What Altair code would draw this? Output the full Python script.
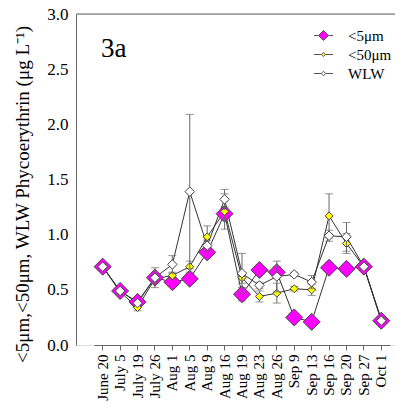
import altair as alt
import pandas as pd

dates = ["June 20", "July 5", "July 19", "July 26", "Aug 1", "Aug 5", "Aug 9",
         "Aug 16", "Aug 19", "Aug 23", "Aug 26", "Sep 9", "Sep 13", "Sep 16",
         "Sep 20", "Sep 27", "Oct 1"]
series_names = ["<5μm", "<50μm", "WLW"]

v5 = [0.71, 0.49, 0.39, 0.61, 0.57, 0.60, 0.84, 1.19, 0.46, 0.68, 0.66, 0.25, 0.21, 0.70, 0.69, 0.71, 0.22]
v50 = [0.71, 0.48, 0.34, 0.60, 0.63, 0.71, 0.98, 1.21, 0.61, 0.44, 0.47, 0.51, 0.50, 1.17, 0.92, 0.71, 0.23]
vwlw = [0.71, 0.49, 0.38, 0.61, 0.73, 1.39, 0.90, 1.32, 0.65, 0.54, 0.62, 0.64, 0.57, 0.99, 0.98, 0.71, 0.22]

e5 = [0.02, 0.02, 0.02, 0.03, 0.03, 0.03, 0.04, 0.06, 0.06, 0.03, 0.05, 0.02, 0.02, 0.03, 0.03, 0.02, 0.02]
e50 = [0.02, 0.02, 0.03, 0.04, 0.03, 0.05, 0.10, 0.16, 0.05, 0.05, 0.09, 0.02, 0.05, 0.20, 0.09, 0.02, 0.02]
ewlw = [0.02, 0.02, 0.02, 0.09, 0.08, 0.70, 0.05, 0.09, 0.18, 0.03, 0.14, 0.02, 0.06, 0.05, 0.13, 0.02, 0.02]

panel_label = ["3a"]

colors = ["#ff00ff", "#ffff00", "#ffffff"]
sizes = [289, 64, 90]
legend_paths = [
    "M-1.9,0L-1,0M1,0L1.9,0M-1,0L0,-1L1,0L0,1Z",
    "M-1.9,0L-0.42,0M0.42,0L1.9,0M-0.42,0L0,-0.42L0.42,0L0,0.42Z",
    "M-1.9,0L-0.45,0M0.45,0L1.9,0M-0.45,0L0,-0.45L0.45,0L0,0.45Z",
]

rows = []
for name, vals, errs in zip(series_names, [v5, v50, vwlw], [e5, e50, ewlw]):
    for d, v, e in zip(dates, vals, errs):
        rows.append({"date": d, "series": name, "value": v, "lo": v - e, "hi": v + e})
df = pd.DataFrame(rows)
one = pd.DataFrame({"t": panel_label})

FONT = "Liberation Serif"
W, H = 319, 331
YTITLE = "<5μm,<50μm, WLW Phycoerythrin (μg L⁻¹)"

x_enc = alt.X("date:O", sort=dates,
              scale=alt.Scale(range=[18, 314]),
              axis=alt.Axis(title=None, labelAngle=270, labelFontSize=15, labelFont=FONT,
                            labelColor="black", tickSize=5, labelPadding=4,
                            labelOverlap=False, domainColor="#666", tickColor="#666"))
y_scale = alt.Scale(domain=[0, 3], nice=False)
y_axis = alt.Axis(title=YTITLE,
                  values=[0, 0.5, 1.0, 1.5, 2.0, 2.5, 3.0], format=".1f",
                  grid=False, tickSize=0, labelPadding=8, labelFontSize=17,
                  labelFont=FONT, labelColor="black", domainColor="#666",
                  titleFont=FONT, titleFontSize=19, titleFontWeight="normal",
                  titleColor="black", titleX=-44, titleY=180,
                  titleAlign="center", titleBaseline="bottom")
y_enc = alt.Y("value:Q", scale=y_scale, axis=y_axis, title=YTITLE)

base = alt.Chart(df)

lines = base.mark_line(color="#333", strokeWidth=1).encode(
    x=x_enc, y=y_enc, detail="series:N")

layers = [lines]
for name, col, sz in zip(series_names, colors, sizes):
    sub = base.transform_filter(alt.datum.series == name)
    err = sub.mark_errorbar(color="#666", ticks={"size": 8, "thickness": 1},
                            rule={"strokeWidth": 1}).encode(
        x=x_enc, y=alt.Y("lo:Q", scale=y_scale, axis=y_axis, title=YTITLE), y2="hi:Q")
    pts = sub.mark_point(shape="diamond", filled=True, fill=col, stroke="#444",
                         strokeWidth=1, size=sz, opacity=1).encode(x=x_enc, y=y_enc)
    layers += [err, pts]

legend_carrier = base.transform_filter("false").mark_point(
    filled=True, stroke="#555", strokeWidth=1, size=324, opacity=1).encode(
    x=x_enc, y=y_enc,
    fill=alt.Fill("series:N", scale=alt.Scale(domain=series_names, range=colors),
                  legend=alt.Legend(title=None, orient="none", legendX=240, legendY=14,
                                    labelFont=FONT, labelFontSize=15, labelColor="black",
                                    labelOffset=17, rowPadding=3, padding=0,
                                    symbolStrokeColor="#555", symbolStrokeWidth=1,
                                    symbolOpacity=1)),
    shape=alt.Shape("series:N", scale=alt.Scale(domain=series_names, range=legend_paths)))

top_rule = alt.Chart(one).mark_rule(color="#666", strokeWidth=1).encode(
    y=alt.YDatum(3.0, scale=y_scale, axis=y_axis))

label = alt.Chart(one).mark_text(font=FONT, fontSize=27, align="left",
                                 baseline="alphabetic", color="black",
                                 fontWeight="normal").encode(
    text="t:N", x=alt.value(25), y=alt.value(43))

chart = alt.layer(top_rule, *layers, legend_carrier, label).properties(
    width=W, height=H,
    autosize=alt.AutoSizeParams(type="none"),
    padding={"left": 68, "top": 6, "right": 0, "bottom": 56},
).configure_view(stroke=None).configure(background="white", font=FONT).configure_axis(
    labelFont=FONT, titleFont=FONT).configure_legend(labelFont=FONT).configure_text(font=FONT)

chart.save("out.html", embed_options={"renderer": "svg", "actions": False})
